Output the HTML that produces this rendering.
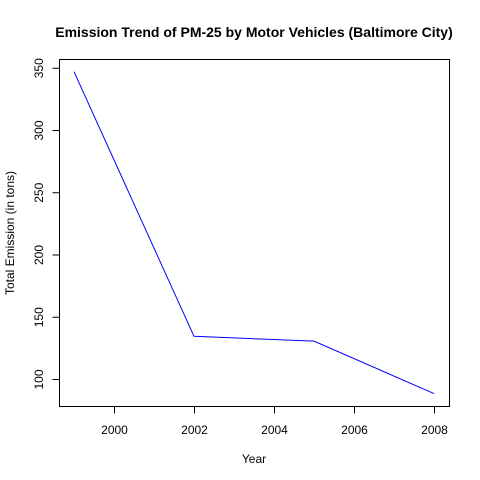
<!DOCTYPE html>
<html><head><meta charset="utf-8"><style>body{margin:0;background:#fff}svg{display:block;font-family:"Liberation Sans",Arial,sans-serif}</style></head>
<body>
<svg width="480" height="480" id="c">
<text x="254" y="37" text-anchor="middle" font-size="14" font-weight="bold">Emission Trend of PM-25 by Motor Vehicles (Baltimore City)</text>
<rect x="59.5" y="59.5" width="390" height="347" fill="none" stroke="#000"/>
<text x="254" y="463" text-anchor="middle" font-size="12">Year</text>
<text transform="translate(14,233) rotate(-90)" text-anchor="middle" font-size="12">Total Emission (in tons)</text>
<g id="xa"></g><g id="ya"></g>
<polyline id="line" fill="none" stroke="#0000ff" stroke-width="1"/>
</svg>
<script>
const years=[1999,2002,2005,2008];
const emissions=[346.82,134.31,130.43,88.28];
const xTicks=[2000,2002,2004,2006,2008];
const yTicks=[100,150,200,250,300,350];
const ns="http://www.w3.org/2000/svg";
const X=v=>114+(v-2000)*40;
const Y=v=>379-(v-100)*1.245;
function mk(t,a,p){const e=document.createElementNS(ns,t);for(const k in a)e.setAttribute(k,a[k]);p.appendChild(e);return e;}
const xa=document.getElementById('xa'),ya=document.getElementById('ya');
mk('line',{x1:X(xTicks[0]),x2:X(xTicks[xTicks.length-1]),y1:406.5,y2:406.5,stroke:'#000'},xa);
xTicks.forEach(v=>{
 const l=mk('line',{x1:X(v)+.5,x2:X(v)+.5,y1:406.5,y2:413.5,stroke:'#000'},xa);
 
 
 const t=mk('text',{x:X(v)+.5,y:434,'text-anchor':'middle','font-size':12},xa);t.textContent=v;
 
 
});
mk('line',{x1:59.5,x2:59.5,y1:Y(yTicks[0]),y2:Y(yTicks[yTicks.length-1]),stroke:'#000'},ya);
yTicks.forEach(v=>{
 const l=mk('line',{x1:52.5,x2:59.5,y1:Y(v)+.5,y2:Y(v)+.5,stroke:'#000'},ya);
 
 
 const t=mk('text',{transform:`translate(43,${Y(v)+.5}) rotate(-90)`,'text-anchor':'middle','font-size':12},ya);t.textContent=v;
 
 
});
document.getElementById('line').setAttribute('points',years.map((y,i)=>X(y)+','+Y(emissions[i])).join(' '));
</script>
</body></html>
